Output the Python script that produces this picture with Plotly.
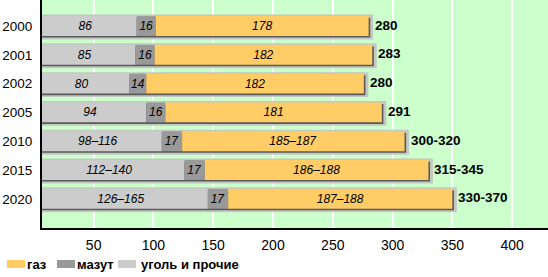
import plotly.graph_objects as go

years = ["2000", "2001", "2002", "2005", "2010", "2015", "2020"]
coal = [86, 85, 80, 94, 107, 126, 145.5]
coal_lbl = ["86", "85", "80", "94", "98–116", "112–140", "126–165"]
mazut = [16, 16, 14, 16, 17, 17, 17]
mazut_lbl = ["16", "16", "14", "16", "17", "17", "17"]
gas = [178, 182, 182, 181, 186, 187, 187.5]
gas_lbl = ["178", "182", "182", "181", "185–187", "186–188", "187–188"]
total_lbl = ["280", "283", "280", "291", "300-320", "315-345", "330-370"]
x_ticks = [50, 100, 150, 200, 250, 300, 350, 400]

C_GAS = "#FFCC66"
C_MAZ = "#999999"
C_COAL = "#CCCCCC"
BG = "#CCFFCC"
FONT = "Liberation Sans, Arial, sans-serif"

W, H = 548, 277
ML, MR, MT, MB = 42, 0, 0, 49
XR = [6.8, 430]
YR = [7.014, -0.903]
pw = W - ML - MR
ph = H - MT - MB
ux = (XR[1] - XR[0]) / pw          # data units per px (x)
uy = (YR[0] - YR[1]) / ph          # category units per px (y)

pos = list(range(len(years)))
totals = [c + m + g for c, m, g in zip(coal, mazut, gas)]
base_m = coal[:]
base_g = [c + m for c, m in zip(coal, mazut)]

BW = 0.69
fig = go.Figure()

# halo shadow
hw = BW + 5 * uy
fig.add_trace(go.Bar(y=pos, x=[t + 4.5 * ux for t in totals], base=0, orientation="h",
                     width=hw, offset=-hw / 2 + 1 * uy,
                     marker=dict(color="#C2C8C2", line=dict(width=0)),
                     showlegend=False, hoverinfo="skip"))
# dark shadow
fig.add_trace(go.Bar(y=pos, x=[t + 1.6 * ux for t in totals], base=0, orientation="h",
                     width=BW, offset=-BW / 2 + 1.6 * uy,
                     marker=dict(color="#5A5A5A", line=dict(width=0)),
                     showlegend=False, hoverinfo="skip"))

txtfont = dict(family=FONT, size=12, color="black", style="italic")
common = dict(orientation="h", width=BW, offset=-BW / 2, textposition="inside",
              insidetextanchor="middle", textangle=0, constraintext="none",
              insidetextfont=txtfont, hoverinfo="skip")
fig.add_trace(go.Bar(y=pos, x=coal, base=0, text=coal_lbl, name="уголь и прочие",
                     marker=dict(color=C_COAL, line=dict(width=0)), **common))
fig.add_trace(go.Bar(y=pos, x=mazut, base=base_m, text=mazut_lbl, name="мазут",
                     marker=dict(color=C_MAZ, line=dict(width=0)), **common))
fig.add_trace(go.Bar(y=pos, x=gas, base=base_g, text=gas_lbl, name="газ",
                     marker=dict(color=C_GAS, line=dict(width=0)), **common))

for p, t, lbl in zip(pos, totals, total_lbl):
    fig.add_annotation(x=t, y=p, text=lbl, showarrow=False, xanchor="left",
                       xshift=4, yshift=1,
                       font=dict(family=FONT, size=13.5, color="black", weight="bold"))

# legend (manual)
leg = [("газ", C_GAS, 7, 27), ("мазут", C_MAZ, 57, 77), ("уголь и прочие", C_COAL, 118, 141)]
for name, col, x0, tx in leg:
    fig.add_shape(type="rect", xref="paper", yref="paper",
                  x0=(x0 - ML) / pw, x1=(x0 + 18 - ML) / pw,
                  y0=(MT + ph - 268) / ph, y1=(MT + ph - 260) / ph,
                  fillcolor=col, line=dict(width=0))
    fig.add_annotation(xref="paper", yref="paper", x=(tx - ML) / pw, y=(MT + ph - 264) / ph,
                       text=name, showarrow=False, xanchor="left", yanchor="middle",
                       xshift=-2,
                       font=dict(family=FONT, size=13, color="black", weight="bold"))

fig.update_layout(
    width=W, height=H, margin=dict(l=ML, r=MR, t=MT, b=MB),
    barmode="overlay", showlegend=False,
    paper_bgcolor="white", plot_bgcolor=BG,
    font=dict(family=FONT, color="black"),
    xaxis=dict(range=XR, tickvals=x_ticks, showgrid=True, gridcolor="white", gridwidth=2,
               zeroline=False, showline=True, linecolor="black", linewidth=2,
               ticks="outside", ticklen=3, tickcolor="rgba(0,0,0,0)",
               tickfont=dict(family=FONT, size=14, color="black")),
    yaxis=dict(range=YR, tickvals=pos, ticktext=years, showgrid=False, zeroline=False,
               showline=True, linecolor="black", linewidth=2,
               ticks="outside", ticklen=5, tickcolor="rgba(0,0,0,0)",
               tickfont=dict(family=FONT, size=13.5, color="black")),
)
fig.write_html("out.html")
